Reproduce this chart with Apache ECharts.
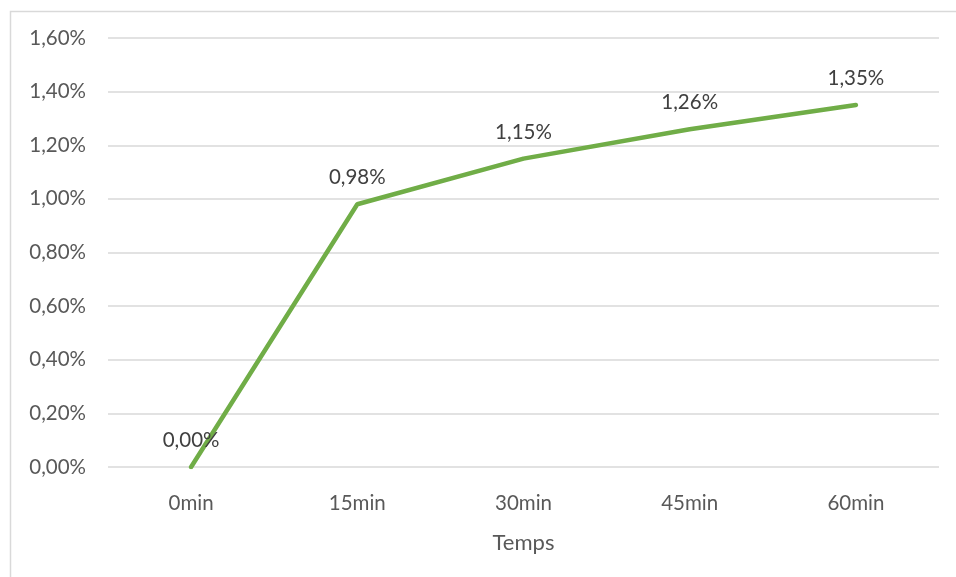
<!DOCTYPE html>
<html><head><meta charset="utf-8">
<script src="https://cdn.jsdelivr.net/npm/echarts@6/dist/echarts.min.js"></script>
<style>html,body{margin:0;padding:0;background:#fff}#c{width:956px;height:577px}</style>
</head><body><div id="c"></div>
<script>
const categories = ['0min', '15min', '30min', '45min', '60min'];
const values = [0.00, 0.98, 1.15, 1.26, 1.35];
const yTicks = { min: 0, max: 1.6, interval: 0.2 };
const xTitle = 'Temps';

const fmt = v => v.toFixed(2).replace('.', ',') + '%';
const font = 'Lato';
const chart = echarts.init(document.getElementById('c'));
chart.setOption({
  animation: false,
  textStyle: { fontFamily: font },
  graphic: [{ type: 'rect', left: 8, top: 9, shape: { width: 1000, height: 700 }, style: { fill: 'none', stroke: '#d9d9d9', lineWidth: 1.5 } }],
  grid: { left: 108, right: 17, top: 38, bottom: 110 },
  xAxis: {
    type: 'category', data: categories, boundaryGap: true,
    name: xTitle, nameLocation: 'middle', nameGap: 65,
    nameTextStyle: { color: '#595959', fontSize: 22, fontFamily: font },
    axisLine: { show: false }, axisTick: { show: false },
    axisLabel: { color: '#595959', fontSize: 20.5, margin: 26, fontFamily: font }
  },
  yAxis: {
    type: 'value', min: yTicks.min, max: yTicks.max, interval: yTicks.interval,
    axisLine: { show: false }, axisTick: { show: false },
    splitLine: { lineStyle: { color: '#d9d9d9', width: 1.5 } },
    axisLabel: { color: '#595959', fontSize: 20.5, margin: 22, fontFamily: font, formatter: v => fmt(v) }
  },
  series: [{
    type: 'line', data: values, symbol: 'circle', symbolSize: 2, showSymbol: true,
    itemStyle: { color: 'rgba(112,173,71,0)' },
    lineStyle: { color: '#70ad47', width: 4.5, cap: 'round' },
    label: { show: true, position: 'top', distance: 15, color: '#404040', fontSize: 20.5, fontFamily: font, formatter: p => fmt(p.value) },
    labelLayout: { hideOverlap: false }
  }]
});
</script></body></html>
